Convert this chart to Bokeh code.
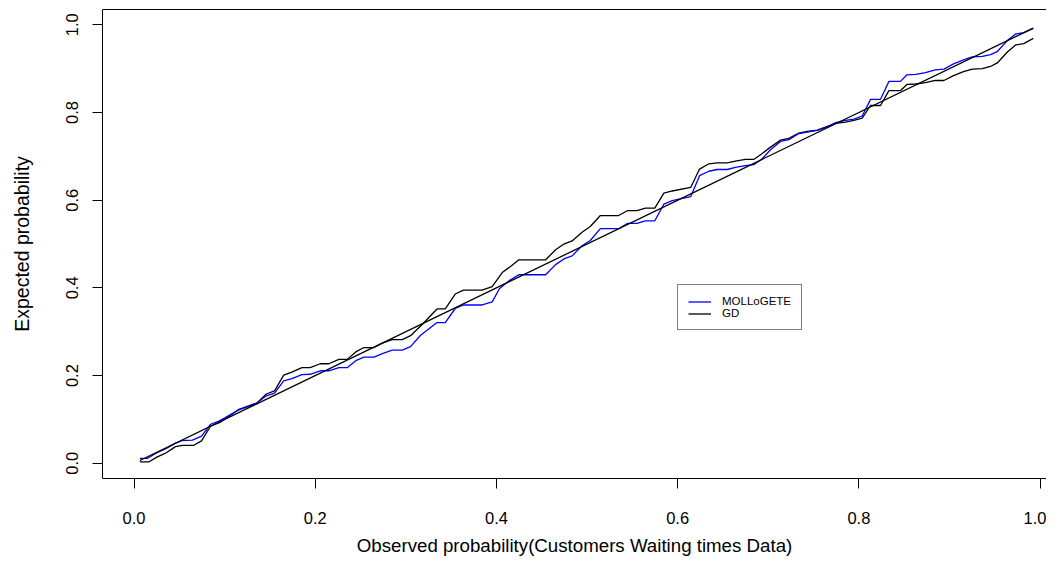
from bokeh.plotting import figure
from bokeh.models import LinearAxis, FixedTicker, Legend, LegendItem, Range1d, PrintfTickFormatter
from bokeh.embed import file_html
from bokeh.resources import INLINE

# ---- data ----
obs_mollo = [0.0064, 0.0146, 0.0252, 0.0347, 0.0458, 0.0534, 0.0645, 0.0745, 0.0846, 0.0937,
             0.1007, 0.1158, 0.1340, 0.1460, 0.1551, 0.1652, 0.1742, 0.1853, 0.1944, 0.2055,
             0.2150, 0.2261, 0.2353, 0.2447, 0.2538, 0.2649, 0.2740, 0.2850, 0.2961, 0.3052,
             0.3163, 0.3344, 0.3435, 0.3545, 0.3636, 0.3842, 0.3953, 0.4033, 0.4137, 0.4247,
             0.4543, 0.4653, 0.4744, 0.4835, 0.4945, 0.5036, 0.5147, 0.5348, 0.5444, 0.5550,
             0.5645, 0.5748, 0.5848, 0.5940, 0.6144, 0.6242, 0.6345, 0.6436, 0.6547, 0.6637,
             0.6748, 0.6839, 0.6930, 0.7025, 0.7136, 0.7228, 0.7337, 0.7431, 0.7541, 0.7645,
             0.7743, 0.7853, 0.7945, 0.8037, 0.8129, 0.8239, 0.8332, 0.8460, 0.8531, 0.8626,
             0.8736, 0.8843, 0.8939, 0.9045, 0.9155, 0.9252, 0.9362, 0.9453, 0.9528, 0.9639,
             0.9730, 0.9820, 0.9925]
exp_mollo = [0.011, 0.011, 0.024, 0.033, 0.046, 0.052, 0.053, 0.062, 0.089, 0.096,
             0.104, 0.122, 0.135, 0.154, 0.160, 0.188, 0.193, 0.202, 0.203, 0.211,
             0.211, 0.218, 0.218, 0.234, 0.242, 0.242, 0.250, 0.258, 0.258, 0.266,
             0.292, 0.321, 0.321, 0.353, 0.361, 0.361, 0.368, 0.398, 0.416, 0.430,
             0.430, 0.453, 0.466, 0.473, 0.496, 0.508, 0.535, 0.535, 0.547, 0.547,
             0.553, 0.553, 0.591, 0.599, 0.608, 0.656, 0.666, 0.670, 0.670, 0.675,
             0.679, 0.681, 0.694, 0.715, 0.734, 0.738, 0.752, 0.755, 0.759, 0.766,
             0.777, 0.782, 0.785, 0.792, 0.830, 0.830, 0.871, 0.871, 0.886, 0.887,
             0.891, 0.897, 0.899, 0.911, 0.920, 0.927, 0.928, 0.932, 0.939, 0.964,
             0.979, 0.982, 0.992]

obs_gd = [0.0064, 0.0161, 0.0252, 0.0347, 0.0458, 0.0534, 0.0660, 0.0745, 0.0846, 0.0957,
          0.1158, 0.1360, 0.1460, 0.1551, 0.1652, 0.1742, 0.1853, 0.1944, 0.2055, 0.2150,
          0.2261, 0.2353, 0.2447, 0.2538, 0.2649, 0.2740, 0.2850, 0.2961, 0.3052, 0.3183,
          0.3344, 0.3435, 0.3545, 0.3636, 0.3842, 0.3953, 0.4064, 0.4156, 0.4247, 0.4543,
          0.4653, 0.4744, 0.4835, 0.4945, 0.5036, 0.5147, 0.5348, 0.5444, 0.5550, 0.5645,
          0.5748, 0.5848, 0.5940, 0.6144, 0.6242, 0.6345, 0.6436, 0.6547, 0.6637, 0.6748,
          0.6839, 0.6930, 0.7025, 0.7136, 0.7228, 0.7337, 0.7431, 0.7541, 0.7645, 0.7743,
          0.7853, 0.7945, 0.8037, 0.8129, 0.8239, 0.8332, 0.8460, 0.8531, 0.8626, 0.8736,
          0.8843, 0.8939, 0.9045, 0.9155, 0.9252, 0.9362, 0.9453, 0.9528, 0.9639, 0.9730,
          0.9820, 0.9925]
exp_gd = [0.003, 0.003, 0.014, 0.023, 0.038, 0.041, 0.041, 0.051, 0.085, 0.094,
          0.123, 0.138, 0.158, 0.165, 0.201, 0.208, 0.218, 0.218, 0.227, 0.227,
          0.237, 0.237, 0.254, 0.264, 0.264, 0.274, 0.282, 0.282, 0.291, 0.317,
          0.352, 0.352, 0.386, 0.395, 0.395, 0.403, 0.435, 0.449, 0.464, 0.464,
          0.487, 0.500, 0.507, 0.527, 0.540, 0.565, 0.565, 0.576, 0.576, 0.582,
          0.582, 0.616, 0.621, 0.629, 0.671, 0.683, 0.685, 0.685, 0.689, 0.693,
          0.693, 0.706, 0.721, 0.737, 0.741, 0.753, 0.757, 0.760, 0.768, 0.775,
          0.778, 0.782, 0.787, 0.816, 0.816, 0.850, 0.850, 0.864, 0.865, 0.868,
          0.873, 0.873, 0.884, 0.893, 0.899, 0.900, 0.905, 0.913, 0.938, 0.954,
          0.957, 0.969]

ref_x = [0.0064, 0.9925]
ref_y = [0.0064, 0.9925]

tick_values = [0.0, 0.2, 0.4, 0.6, 0.8, 1.0]
tick_labels = ["0.0", "0.2", "0.4", "0.6", "0.8", "1.0"]
series_names = ["MOLLoGETE", "GD"]
x_title = "Observed probability(Customers Waiting times Data)"
y_title = "Expected probability"

FONT = "Liberation Sans"

p = figure(width=1046, height=559, output_backend="svg", toolbar_location=None,
           x_range=Range1d(-0.0348, 1.0071), y_range=Range1d(-0.0347, 1.0349),
           min_border_left=102, min_border_right=0, min_border_top=9, min_border_bottom=81,
           x_axis_label=x_title, y_axis_label=y_title)
p.grid.visible = False
p.outline_line_color = None
p.background_fill_color = "white"
p.border_fill_color = "white"

for ax in (p.xaxis[0], p.yaxis[0]):
    ax.ticker = FixedTicker(ticks=tick_values)
    ax.formatter = PrintfTickFormatter(format="%.1f")
    ax.major_label_overrides = dict(zip(tick_values, tick_labels))
    ax.axis_line_color = "black"
    ax.axis_line_width = 1
    ax.major_tick_out = 10
    ax.major_tick_in = 0
    ax.minor_tick_out = 0
    ax.minor_tick_in = 0
    ax.major_tick_line_color = "black"
    ax.major_label_text_font = FONT
    ax.major_label_text_font_size = "16.5px"
    ax.major_label_text_color = "black"
    ax.axis_label_text_font = FONT
    ax.axis_label_text_font_size = "18.7px"
    ax.axis_label_text_font_style = "normal"
    ax.axis_label_text_color = "black"

p.xaxis[0].major_label_standoff = 23
p.xaxis[0].axis_label_standoff = 8
p.yaxis[0].major_label_orientation = "vertical"
p.yaxis[0].axis_label_text_font_size = "19.5px"
p.yaxis[0].major_label_standoff = 14
p.yaxis[0].axis_label_standoff = 31

top = LinearAxis(ticker=FixedTicker(ticks=[]), major_tick_out=0, major_tick_in=0,
                 minor_tick_out=0, minor_tick_in=0, major_label_standoff=0,
                 major_label_text_font_size="0px", axis_line_color="black")
p.add_layout(top, "above")

r_gd = p.line(obs_gd, exp_gd, line_color="black", line_width=1.3)
r_mol = p.line(obs_mollo, exp_mollo, line_color="#0000FF", line_width=1.3)
r_ref = p.line(ref_x, ref_y, line_color="black", line_width=1.3)

legend = Legend(items=[LegendItem(label=series_names[0], renderers=[r_mol]),
                       LegendItem(label=series_names[1], renderers=[r_gd])],
                location=(575, 148), orientation="vertical",
                border_line_color="black", border_line_width=1,
                background_fill_color="white", background_fill_alpha=1,
                label_text_font=FONT, label_text_font_size="11.5px", label_text_color="black",
                glyph_width=23, glyph_height=11, label_height=11, label_standoff=11,
                padding=10, spacing=0, margin=0)
p.add_layout(legend, "center")

open("out.html", "w").write(file_html(p, INLINE))
